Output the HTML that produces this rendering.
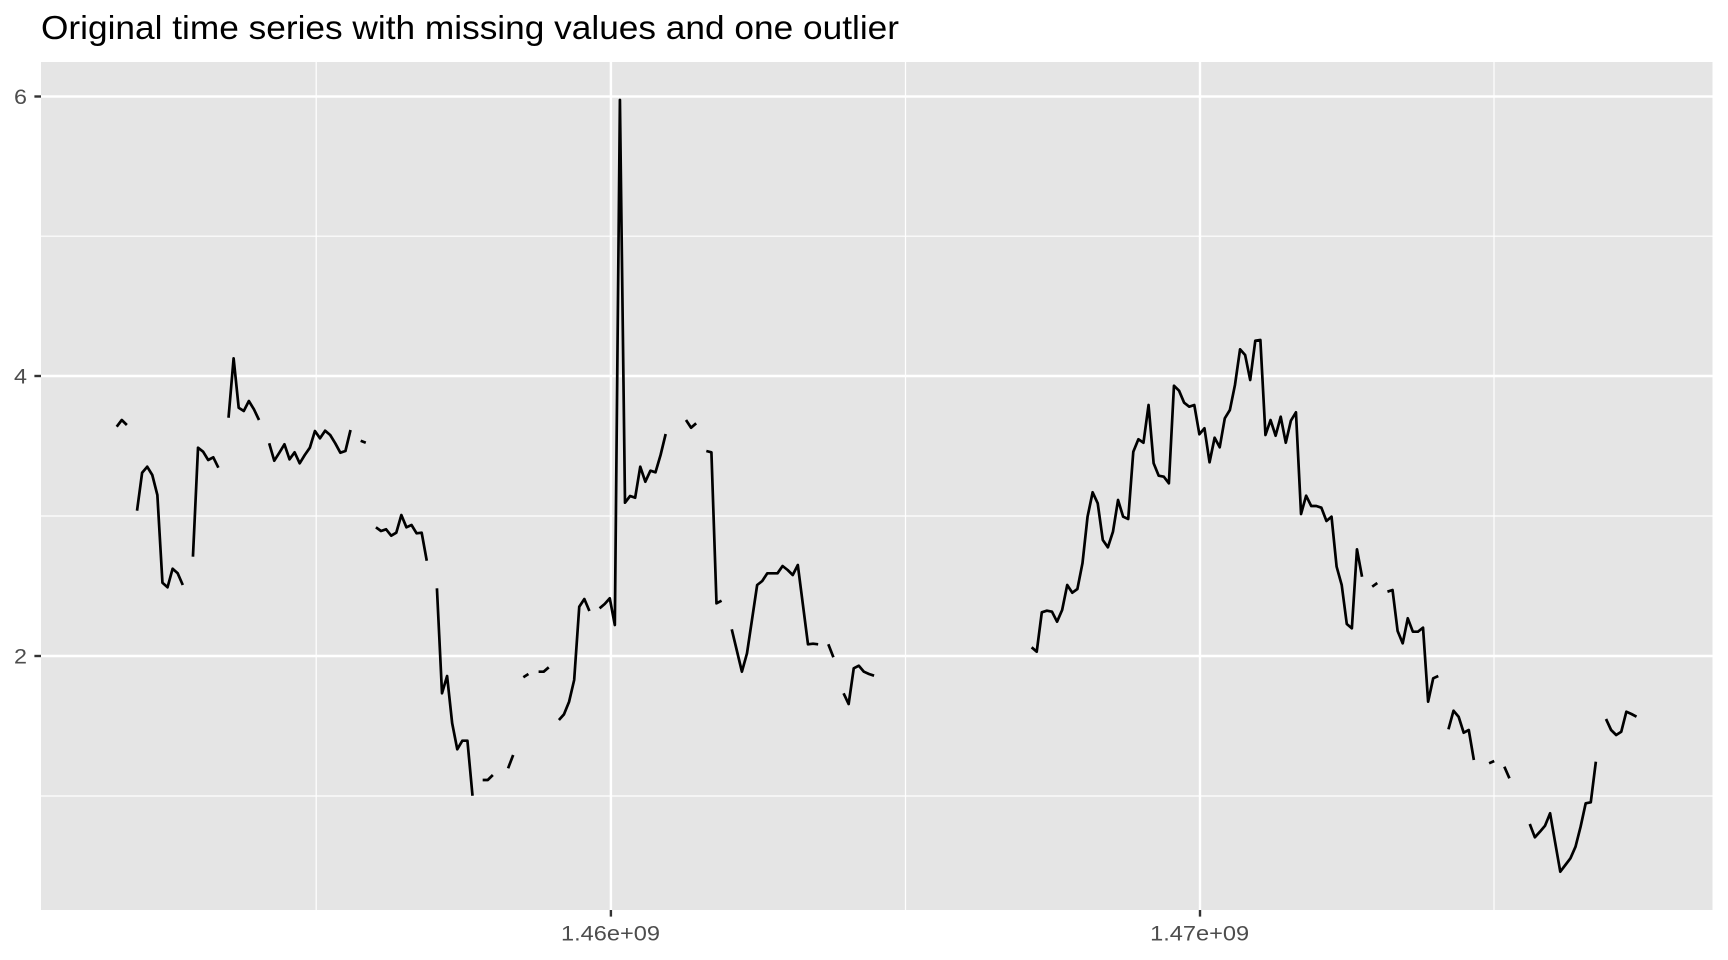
<!DOCTYPE html>
<html>
<head>
<meta charset="utf-8">
<style>
  html, body { margin: 0; padding: 0; background: #ffffff; }
  svg { display: block; }
  text { font-family: "Liberation Sans", Arial, sans-serif; }
</style>
</head>
<body>
<svg width="1728" height="960" viewBox="0 0 1728 960" xmlns="http://www.w3.org/2000/svg">
  <rect x="0" y="0" width="1728" height="960" fill="#ffffff"/>
  <!-- title -->
  <text x="41" y="39" font-size="33" fill="#000000" textLength="858" lengthAdjust="spacingAndGlyphs">Original time series with missing values and one outlier</text>

  <!-- panel -->
  <rect x="41" y="62" width="1671.5" height="848" fill="#E5E5E5"/>

  <!-- minor grid -->
  <g stroke="#ffffff" stroke-width="1.2" fill="none">
    <line x1="41" y1="236.2" x2="1712.5" y2="236.2"/>
    <line x1="41" y1="516" x2="1712.5" y2="516"/>
    <line x1="41" y1="796" x2="1712.5" y2="796"/>
    <line x1="316.2" y1="62" x2="316.2" y2="910"/>
    <line x1="905.5" y1="62" x2="905.5" y2="910"/>
    <line x1="1494" y1="62" x2="1494" y2="910"/>
  </g>
  <!-- major grid -->
  <g stroke="#ffffff" stroke-width="2.4" fill="none">
    <line x1="41" y1="96.5" x2="1712.5" y2="96.5"/>
    <line x1="41" y1="376" x2="1712.5" y2="376"/>
    <line x1="41" y1="656" x2="1712.5" y2="656"/>
    <line x1="610.9" y1="62" x2="610.9" y2="910"/>
    <line x1="1200" y1="62" x2="1200" y2="910"/>
  </g>

  <!-- series -->
  <g transform="translate(116.7 0) scale(5.083 1)" fill="none" stroke="#000000" stroke-linejoin="round" stroke-linecap="butt">
    <polyline vector-effect="non-scaling-stroke" stroke-width="2.7" points="0,426.7 1,420 2,425"/>
    <polyline vector-effect="non-scaling-stroke" stroke-width="2.7" points="4,510.7 5,472.7 6,466.7 7,475 8,495 9,582.7 10,587.3 11,568.7 12,573.3 13,585"/>
    <polyline vector-effect="non-scaling-stroke" stroke-width="2.7" points="15,556.7 16,447.7 17,451.7 18,460 19,457.3 20,467.7"/>
    <polyline vector-effect="non-scaling-stroke" stroke-width="2.7" points="22,417.7 23,358.3 24,407.7 25,411 26,401 27,409.3 28,420"/>
    <polyline vector-effect="non-scaling-stroke" stroke-width="2.7" points="30,443.3 31,460.7 32,452.7 33,444.3 34,459.3 35,452.3 36,463.3 37,455 38,447.7 39,431 40,438.3 41,430.7 42,435 43,443.3 44,452.7 45,451 46,430"/>
    <polyline vector-effect="non-scaling-stroke" stroke-width="2.7" points="48,440.7 49,442.7"/>
    <polyline vector-effect="non-scaling-stroke" stroke-width="2.7" points="51,527.3 52,531 53,529.3 54,535.7 55,532.7 56,515 57,527.3 58,525 59,533.3 60,532.7 61,560.7"/>
    <polyline vector-effect="non-scaling-stroke" stroke-width="2.7" points="63,588.3 64,693.3 65,676 66,723.3 67,749.3 68,740.7 69,740.7 70,795.7"/>
    <polyline vector-effect="non-scaling-stroke" stroke-width="2.7" points="72,780 73,780 74,775"/>
    <polyline vector-effect="non-scaling-stroke" stroke-width="2.7" points="77,768.3 78,755"/>
    <polyline vector-effect="non-scaling-stroke" stroke-width="2.7" points="80,677.3 81,674"/>
    <polyline vector-effect="non-scaling-stroke" stroke-width="2.7" points="83,671.7 84,671.7 85,667.3"/>
    <polyline vector-effect="non-scaling-stroke" stroke-width="2.7" points="87,720 88,714.3 89,701.7 90,680 91,606.7 92,599 93,611"/>
    <polyline vector-effect="non-scaling-stroke" stroke-width="2.7" points="95,608.3 96,604 97,598.3 98,625 99,100 100,502.7 101,496 102,497.7 103,466.7 104,481.7 105,470.7 106,472.3 107,455 108,434"/>
    <polyline vector-effect="non-scaling-stroke" stroke-width="2.7" points="112,420 113,427.7 114,423.3"/>
    <polyline vector-effect="non-scaling-stroke" stroke-width="2.7" points="116,451 117,452.3 118,603.3 119,600.7"/>
    <polyline vector-effect="non-scaling-stroke" stroke-width="2.7" points="121,629.3 122,650.5 123,671.7 124,653.3 125,619.2 126,585 127,581 128,573.3 129,573.3 130,573.3 131,566 132,570 133,575 134,565 135,604.7 136,644.3 137,643.7 138,644.3"/>
    <polyline vector-effect="non-scaling-stroke" stroke-width="2.7" points="140,644.3 141,657.3"/>
    <polyline vector-effect="non-scaling-stroke" stroke-width="2.7" points="143,693.3 144,704 145,668.3 146,665.7 147,671.7 148,674 149,675.7"/>
    <polyline vector-effect="non-scaling-stroke" stroke-width="2.7" points="180,647.3 181,651.7 182,612.3 183,610.7 184,611.7 185,621.7 186,610 187,585 188,592.7 189,589 190,563.3 191,516.7 192,492.3 193,503.3 194,540 195,547.3 196,531.7 197,500 198,516.7 199,519 200,451.7 201,439.3 202,442.7 203,405 204,463.3 205,475.7 206,476.7 207,483.3 208,385.7 209,390.7 210,402.7 211,406.7 212,405 213,434.3 214,428.3 215,462.3 216,437.7 217,447.3 218,418.3 219,410 220,385 221,349.3 222,355 223,380 224,340.7 225,340 226,435 227,420 228,435.7 229,416.7 230,442.7 231,420.7 232,412.3 233,514 234,495.7 235,506 236,506 237,507.7 238,521 239,516.7 240,566.7 241,585 242,624 243,628.3 244,549.3 245,576.7"/>
    <polyline vector-effect="non-scaling-stroke" stroke-width="2.7" points="247,586.7 248,583"/>
    <polyline vector-effect="non-scaling-stroke" stroke-width="2.7" points="250,591.7 251,590 252,631 253,643.3 254,618.3 255,631.7 256,631.7 257,627.7 258,701.7 259,678.3 260,676"/>
    <polyline vector-effect="non-scaling-stroke" stroke-width="2.7" points="262,729.3 263,710.7 264,716.7 265,732.7 266,730 267,760"/>
    <polyline vector-effect="non-scaling-stroke" stroke-width="2.7" points="270,763.3 271,761"/>
    <polyline vector-effect="non-scaling-stroke" stroke-width="2.7" points="273,766.7 274,778.3"/>
    <polyline vector-effect="non-scaling-stroke" stroke-width="2.7" points="278,824 279,837.3 280,831.7 281,825.7 282,813.3 283,842.7 284,871.7 285,865 286,858.3 287,846.7 288,826.7 289,803.3 290,802.3 291,761.7"/>
    <polyline vector-effect="non-scaling-stroke" stroke-width="2.7" points="293,719 294,730 295,735 296,731.7 297,711.7 298,714 299,716.7"/>
  </g>

  <!-- axis ticks -->
  <g stroke="#333333" stroke-width="2.4">
    <line x1="34.4" y1="96.5" x2="41" y2="96.5"/>
    <line x1="34.4" y1="376" x2="41" y2="376"/>
    <line x1="34.4" y1="656" x2="41" y2="656"/>
    <line x1="610.9" y1="910" x2="610.9" y2="916.6"/>
    <line x1="1200" y1="910" x2="1200" y2="916.6"/>
  </g>

  <!-- y tick labels -->
  <g fill="#4D4D4D" font-size="21.5" text-anchor="end">
    <text x="27" y="104.2" textLength="13" lengthAdjust="spacingAndGlyphs">6</text>
    <text x="27" y="383.7" textLength="13" lengthAdjust="spacingAndGlyphs">4</text>
    <text x="27" y="663.7" textLength="13" lengthAdjust="spacingAndGlyphs">2</text>
  </g>
  <!-- x tick labels -->
  <g fill="#4D4D4D" font-size="21.5">
    <text x="561" y="940.7" textLength="99" lengthAdjust="spacingAndGlyphs">1.46e+09</text>
    <text x="1150.1" y="940.7" textLength="99" lengthAdjust="spacingAndGlyphs">1.47e+09</text>
  </g>
</svg>
</body>
</html>
